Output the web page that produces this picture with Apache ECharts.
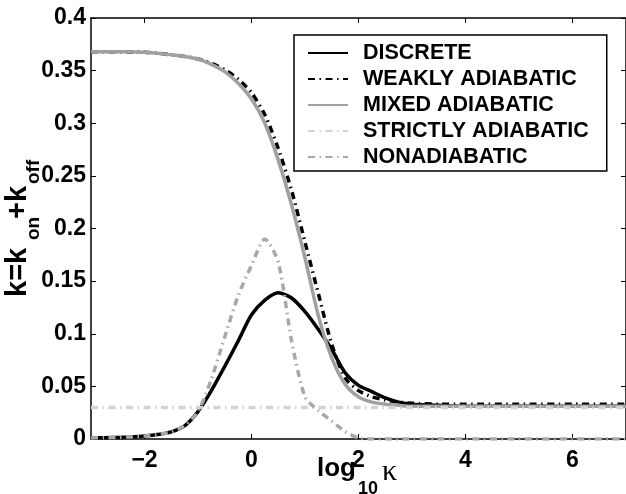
<!DOCTYPE html>
<html>
<head>
<meta charset="utf-8">
<script src="https://cdn.jsdelivr.net/npm/echarts@6/dist/echarts.min.js"></script>
<style>html,body{margin:0;padding:0;background:#fff}#c{width:626px;height:494px}</style>
</head>
<body>
<div id="c"></div>
<script>
const FONT = '"Liberation Sans", Arial, Helvetica, sans-serif';
const xs = [-3, -2.75, -2.5, -2.25, -2, -1.75, -1.5, -1.25, -1, -0.75, -0.5, -0.25, 0, 0.25, 0.5, 0.75, 1, 1.25, 1.5, 1.75, 2, 2.25, 2.5, 2.75, 3, 3.5, 4, 5, 6, 7];
const discrete = [0.001, 0.0012, 0.0015, 0.002, 0.0028, 0.0042, 0.0068, 0.0125, 0.026, 0.046, 0.069, 0.093, 0.118, 0.132, 0.139, 0.134, 0.121, 0.104, 0.085, 0.063, 0.051, 0.045, 0.039, 0.035, 0.033, 0.032, 0.031, 0.031, 0.031, 0.031];
const weakly = [0.368, 0.368, 0.368, 0.3678, 0.3675, 0.3665, 0.365, 0.3635, 0.361, 0.357, 0.351, 0.342, 0.329, 0.308, 0.276, 0.236, 0.187, 0.138, 0.090, 0.058, 0.046, 0.040, 0.037, 0.035, 0.034, 0.033, 0.033, 0.033, 0.033, 0.033];
const mixed = [0.368, 0.368, 0.368, 0.3678, 0.3675, 0.3665, 0.365, 0.3635, 0.361, 0.356, 0.349, 0.338, 0.323, 0.300, 0.265, 0.222, 0.172, 0.117, 0.077, 0.052, 0.040, 0.035, 0.033, 0.032, 0.031, 0.031, 0.031, 0.031, 0.031, 0.031];
const strictly = [0.03, 0.03, 0.03, 0.03, 0.03, 0.03, 0.03, 0.03, 0.03, 0.03, 0.03, 0.03, 0.03, 0.03, 0.03, 0.03, 0.03, 0.03, 0.03, 0.03, 0.03, 0.03, 0.03, 0.03, 0.03, 0.03, 0.03, 0.03, 0.03, 0.03];
const nonadiabatic = [0.001, 0.0012, 0.0015, 0.002, 0.0028, 0.0042, 0.0068, 0.0125, 0.026, 0.057, 0.097, 0.136, 0.165, 0.19, 0.168, 0.093, 0.040, 0.027, 0.017, 0.007, 0.001, 0, 0, 0, 0, 0, 0, 0, 0, 0];
const seriesNames = ['DISCRETE', 'WEAKLY ADIABATIC', 'MIXED ADIABATIC', 'STRICTLY ADIABATIC', 'NONADIABATIC'];
const xTicks = [-2, 0, 2, 4, 6];

const pairs = arr => xs.map((x, i) => [x, arr[i]]);
const dashDot = [7, 4.5, 1.5, 4.5];

function mk(name, arr, color, type, width) {
  return {
    name: name, type: 'line', data: pairs(arr), showSymbol: false, symbol: 'none',
    smooth: 0.25, lineStyle: { color: color, width: width, type: type },
    itemStyle: { color: color }, emphasis: { disabled: true }
  };
}

const axisLineStyle = { color: '#000', width: 1.5 };
const chart = echarts.init(document.getElementById('c'));
chart.setOption({
  animation: false,
  grid: { left: 91, right: -2, top: 18, bottom: 55 },
  legend: {
    orient: 'vertical', left: 294, top: 35,
    padding: [7, 18, 3, 13], itemWidth: 40, itemHeight: 14, itemGap: 4,
    borderColor: '#000', borderWidth: 1.5, backgroundColor: '#fff',
    itemStyle: { opacity: 0 },
    textStyle: { fontSize: 21.5, fontWeight: 'bold', fontFamily: FONT, color: '#000', lineHeight: 21, padding: [0, 0, 0, 10] },
    data: seriesNames
  },
  xAxis: [
    { type: 'value', min: -3, max: 7, position: 'bottom',
      axisLine: { onZero: false, lineStyle: axisLineStyle },
      axisTick: { inside: true, length: 5, customValues: xTicks, lineStyle: { color: '#000', width: 1 } },
      axisLabel: { customValues: xTicks, formatter: v => String(v).replace('-', '\u2212'), fontSize: 23, fontWeight: 'bold', fontFamily: FONT, color: '#000', margin: 10 },
      splitLine: { show: false } },
    { type: 'value', min: -3, max: 7, position: 'top',
      axisLine: { onZero: false, lineStyle: axisLineStyle },
      axisTick: { inside: true, length: 5, customValues: xTicks, lineStyle: { color: '#000', width: 1 } },
      axisLabel: { show: false }, splitLine: { show: false } }
  ],
  yAxis: [
    { type: 'value', min: 0, max: 0.4, interval: 0.05, position: 'left',
      axisLine: { onZero: false, lineStyle: axisLineStyle },
      axisTick: { inside: true, length: 5, lineStyle: { color: '#000', width: 1 } },
      axisLabel: { fontSize: 23, fontWeight: 'bold', fontFamily: FONT, color: '#000', margin: 5 },
      splitLine: { show: false } },
    { type: 'value', min: 0, max: 0.4, interval: 0.05, position: 'right',
      axisLine: { onZero: false, lineStyle: axisLineStyle },
      axisTick: { inside: true, length: 5, lineStyle: { color: '#000', width: 1 } },
      axisLabel: { show: false }, splitLine: { show: false } }
  ],
  series: [
    mk(seriesNames[0], discrete, '#000000', 'solid', 3.5),
    mk(seriesNames[1], weakly, '#000000', dashDot, 3.5),
    mk(seriesNames[2], mixed, '#a0a0a0', 'solid', 3.5),
    mk(seriesNames[3], strictly, '#d3d3d3', dashDot, 3.5),
    mk(seriesNames[4], nonadiabatic, '#a8a8a8', dashDot, 3.5)
  ],
  graphic: [
    { type: 'text', left: 317, top: 456, style: { text: 'log', font: 'bold 26px ' + FONT, fill: '#000' } },
    { type: 'text', left: 358, top: 480, style: { text: '10', font: 'bold 18px ' + FONT, fill: '#000' } },
    { type: 'text', left: 382, top: 457, style: { text: '\u03ba', font: '30px "Liberation Serif", "DejaVu Serif", serif', fill: '#000' } },
    { type: 'group', x: 0, y: 297, rotation: Math.PI / 2, children: [
      { type: 'text', x: 0, y: 18, style: { text: 'k=k', font: 'bold 29px ' + FONT, fill: '#000', verticalAlign: 'middle' } },
      { type: 'text', x: 57, y: 34, style: { text: 'on', font: 'bold 19px ' + FONT, fill: '#000', verticalAlign: 'middle' } },
      { type: 'text', x: 78, y: 18, style: { text: '+k', font: 'bold 29px ' + FONT, fill: '#000', verticalAlign: 'middle' } },
      { type: 'text', x: 113, y: 34, style: { text: 'off', font: 'bold 19px ' + FONT, fill: '#000', verticalAlign: 'middle' } }
    ] }
  ]
});
</script>
</body>
</html>
